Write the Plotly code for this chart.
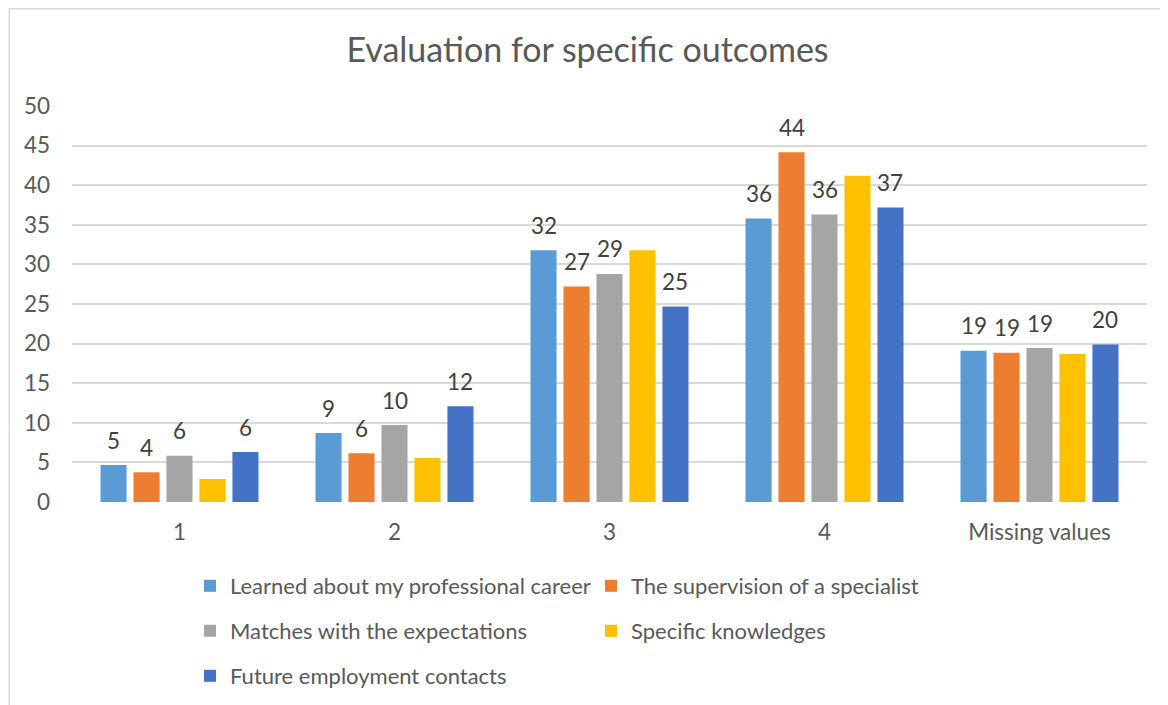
import plotly.graph_objects as go

# ── Data ──────────────────────────────────────────────────────
categories = ["1", "2", "3", "4", "Missing values"]

series_names = [
    "Learned about my professional career",
    "The supervision of a specialist",
    "Matches with the expectations",
    "Specific knowledges",
    "Future employment contacts",
]

learned     = [4.67, 8.7, 31.8, 35.8, 19.1]
supervision = [3.75, 6.14, 27.2, 44.15, 18.85]
matches     = [5.85, 9.72, 28.8, 36.3, 19.44]
knowledges  = [2.9, 5.55, 31.8, 41.2, 18.7]
contacts    = [6.31, 12.1, 24.7, 37.2, 19.9]

# data labels shown in the chart (the yellow series has none)
learned_lbl     = [5, 9, 32, 36, 19]
supervision_lbl = [4, 6, 27, 44, 19]
matches_lbl     = [6, 10, 29, 36, 19]
knowledges_lbl  = None
contacts_lbl    = [6, 12, 25, 37, 20]

y_ticks = [0, 5, 10, 15, 20, 25, 30, 35, 40, 45, 50]

# ── Style ─────────────────────────────────────────────────────
colors = ["#5B9BD5", "#ED7D31", "#A5A5A5", "#FFC000", "#4472C4"]
legend_ids = ["legend", "legend", "legend2", "legend2", "legend3"]
FONT = "Lato"
FS = 22.5
W, H = 1168, 705
# page body has an 8px margin, so everything is placed 8px up/left
L, R, T, B = 63.5, 29, 98, 211
plot_w = W - L - R
plot_h = H - T - B
BARGAP, GROUPGAP = 0.233, 0.21
pitch = plot_w / len(categories) * (1 - BARGAP) / 5

values = [learned, supervision, matches, knowledges, contacts]
labels = [learned_lbl, supervision_lbl, matches_lbl, knowledges_lbl, contacts_lbl]

fig = go.Figure()
for i, (name, vals) in enumerate(zip(series_names, values)):
    fig.add_trace(go.Bar(
        x=categories, y=vals, name=name,
        marker=dict(color=colors[i], line=dict(width=0)),
        legend=legend_ids[i],
    ))

# data labels, 25px above each bar top
annotations = []
for i, (vals, lbls) in enumerate(zip(values, labels)):
    if lbls is None:
        continue
    for j, (v, lb) in enumerate(zip(vals, lbls)):
        annotations.append(dict(
            x=j, y=v, xref="x", yref="y", text=str(lb),
            showarrow=False, xshift=(i - 2) * pitch, yshift=25,
            yanchor="middle", font=dict(family=FONT, size=FS, color="#404040"),
        ))

legend_common = dict(
    orientation="h", xref="container", yref="container",
    xanchor="left", yanchor="middle", x=182 / W,
    font=dict(family=FONT, size=22, color="#595959"),
    entrywidth=356, bgcolor="rgba(0,0,0,0)", itemclick=False,
)

fig.update_layout(
    width=W, height=H,
    margin=dict(l=L, r=R, t=T, b=B, autoexpand=False),
    paper_bgcolor="white", plot_bgcolor="white",
    barmode="group", bargap=BARGAP, bargroupgap=GROUPGAP,
    title=dict(
        text="Evaluation for specific outcomes",
        x=579.5 / W, xanchor="center", xref="container",
        y=1 - 42 / H, yanchor="middle", yref="container",
        font=dict(family=FONT, size=34, color="#595959"),
    ),
    legend=dict(legend_common, y=1 - 578 / H),
    legend2=dict(legend_common, y=1 - 623 / H),
    legend3=dict(legend_common, y=1 - 668 / H),
    annotations=annotations,
    shapes=[dict(
        type="rect", xref="paper", yref="paper", layer="below",
        x0=(0.75 - L) / plot_w, x1=1.2, y0=-1.0, y1=(plot_h + T - 0.75) / plot_h,
        line=dict(color="#D9D9D9", width=1.5), fillcolor="rgba(0,0,0,0)",
    )],
)

fig.update_xaxes(
    showgrid=False, zeroline=False, showline=False,
    tickfont=dict(family=FONT, size=FS, color="#595959"),
    ticklabelstandoff=14,
)
fig.update_yaxes(
    range=[0, 50], tickvals=y_ticks,
    showgrid=True, gridcolor="#D9D9D9", gridwidth=1.5,
    zeroline=False, showline=False,
    tickfont=dict(family=FONT, size=FS, color="#595959"),
    ticklabelstandoff=21,
)

fig.write_html("out.html")
